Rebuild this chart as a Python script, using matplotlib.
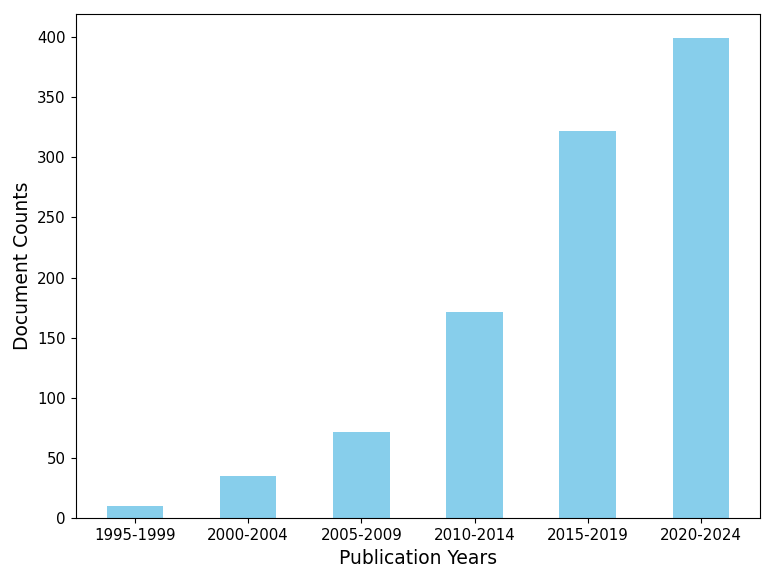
import matplotlib
matplotlib.use('Agg')
import matplotlib.pyplot as plt

#Data
periods = ['1995-1999', '2000-2004', '2005-2009', '2010-2014', '2015-2019', '2020-2024']
counts = [10, 35, 72, 171, 322, 399]

fig, ax = plt.subplots(figsize=(7.75, 5.81), dpi=100)
ax.bar(periods, counts, width=0.5, color='skyblue')
ax.set_xlim(-0.525, len(periods) - 0.475)
ax.set_xlabel('Publication Years', fontsize=13.5)
ax.set_ylabel('Document Counts', fontsize=13.5)
ax.tick_params(axis='both', labelsize=10.8)

plt.subplots_adjust(left=0.0975, right=0.981, top=0.976, bottom=0.108)
plt.savefig('out.png', dpi=100)
